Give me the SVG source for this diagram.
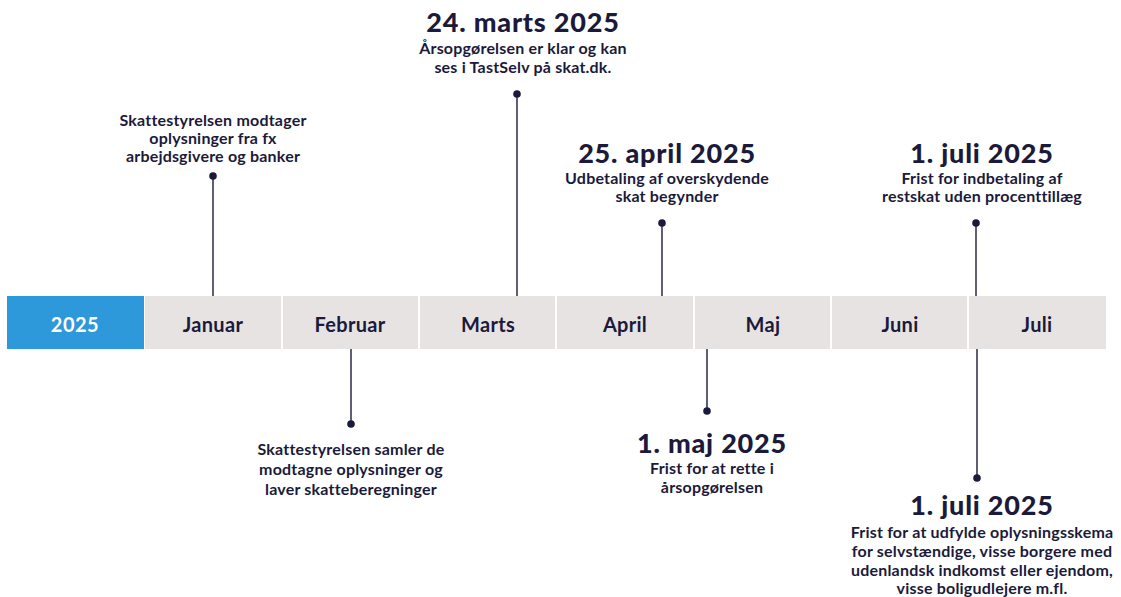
<svg xmlns="http://www.w3.org/2000/svg" width="1121" height="597" viewBox="0 0 1121 597">
<style>
.cell{fill:#e7e3e3}
.mon{font-family:Lato,"Liberation Sans",sans-serif;font-weight:700;font-size:20px;letter-spacing:0.3px;fill:#1b1a3a;text-anchor:middle}
.yr{font-family:Lato,"Liberation Sans",sans-serif;font-weight:700;font-size:20px;letter-spacing:0.5px;fill:#ffffff;text-anchor:middle}
.ttl{font-family:Lato,"Liberation Sans",sans-serif;font-weight:900;font-size:27px;letter-spacing:0.8px;fill:#1b1a3a;text-anchor:middle}
.txt{font-family:Lato,"Liberation Sans",sans-serif;font-weight:700;font-size:16px;letter-spacing:0.2px;fill:#1b1a3a;text-anchor:middle}
.ln{stroke:#1b1a3a;stroke-width:1.4;fill:none}
.dot{fill:#1b1a3a}
</style>
<rect width="1121" height="597" fill="#ffffff"/>
<g id="bar">
<rect x="7" y="296" width="137" height="53" fill="#2d98da"/>
<text class="yr" x="75" y="332">2025</text>
</g>
<g id="januar"><rect class="cell" x="145" y="296" width="136" height="53"/><text class="mon" x="213" y="332">Januar</text></g>
<g id="februar"><rect class="cell" x="283" y="296" width="135" height="53"/><text class="mon" x="350" y="332">Februar</text></g>
<g id="marts"><rect class="cell" x="420" y="296" width="135" height="53"/><text class="mon" x="488" y="332">Marts</text></g>
<g id="april"><rect class="cell" x="557" y="296" width="136" height="53"/><text class="mon" x="625" y="332">April</text></g>
<g id="maj"><rect class="cell" x="695" y="296" width="135" height="53"/><text class="mon" x="763" y="332">Maj</text></g>
<g id="juni"><rect class="cell" x="832" y="296" width="135" height="53"/><text class="mon" x="900" y="332">Juni</text></g>
<g id="juli"><rect class="cell" x="969" y="296" width="137" height="53"/><text class="mon" x="1037" y="332">Juli</text></g>
<g id="connectors">
<line class="ln" x1="213" y1="176" x2="213" y2="296"/><circle class="dot" cx="213" cy="176" r="3.8"/>
<line class="ln" x1="517" y1="94" x2="517" y2="296"/><circle class="dot" cx="517" cy="94" r="3.8"/>
<line class="ln" x1="662" y1="223" x2="662" y2="296"/><circle class="dot" cx="662" cy="223" r="3.8"/>
<line class="ln" x1="976" y1="223" x2="976" y2="296"/><circle class="dot" cx="976" cy="223" r="3.8"/>
<line class="ln" x1="351" y1="349" x2="351" y2="424"/><circle class="dot" cx="351" cy="424" r="3.8"/>
<line class="ln" x1="707" y1="349" x2="707" y2="411"/><circle class="dot" cx="707" cy="411" r="3.8"/>
<line class="ln" x1="977" y1="349" x2="977" y2="478"/><circle class="dot" cx="977" cy="478" r="3.8"/>
</g>
<g id="ev-jan">
<text class="txt" x="213" y="126">Skattestyrelsen modtager</text>
<text class="txt" x="213" y="144">oplysninger fra fx</text>
<text class="txt" x="213" y="162">arbejdsgivere og banker</text>
</g>
<g id="ev-mar">
<text class="ttl" x="523" y="32">24. marts 2025</text>
<text class="txt" x="523" y="54">Årsopgørelsen er klar og kan</text>
<text class="txt" x="523" y="73">ses i TastSelv på skat.dk.</text>
</g>
<g id="ev-apr">
<text class="ttl" x="667" y="163">25. april 2025</text>
<text class="txt" x="667" y="184">Udbetaling af overskydende</text>
<text class="txt" x="667" y="202">skat begynder</text>
</g>
<g id="ev-jul1">
<text class="ttl" x="982" y="163">1. juli 2025</text>
<text class="txt" x="982" y="184">Frist for indbetaling af</text>
<text class="txt" x="982" y="202">restskat uden procenttillæg</text>
</g>
<g id="ev-feb">
<text class="txt" x="351" y="455">Skattestyrelsen samler de</text>
<text class="txt" x="351" y="475">modtagne oplysninger og</text>
<text class="txt" x="351" y="495">laver skatteberegninger</text>
</g>
<g id="ev-maj">
<text class="ttl" x="712" y="453">1. maj 2025</text>
<text class="txt" x="712" y="474">Frist for at rette i</text>
<text class="txt" x="712" y="493">årsopgørelsen</text>
</g>
<g id="ev-jul2">
<text class="ttl" x="982" y="515">1. juli 2025</text>
<text class="txt" x="982" y="538">Frist for at udfylde oplysningsskema</text>
<text class="txt" x="982" y="557">for selvstændige, visse borgere med</text>
<text class="txt" x="982" y="576">udenlandsk indkomst eller ejendom,</text>
<text class="txt" x="982" y="594">visse boligudlejere m.fl.</text>
</g>
</svg>
